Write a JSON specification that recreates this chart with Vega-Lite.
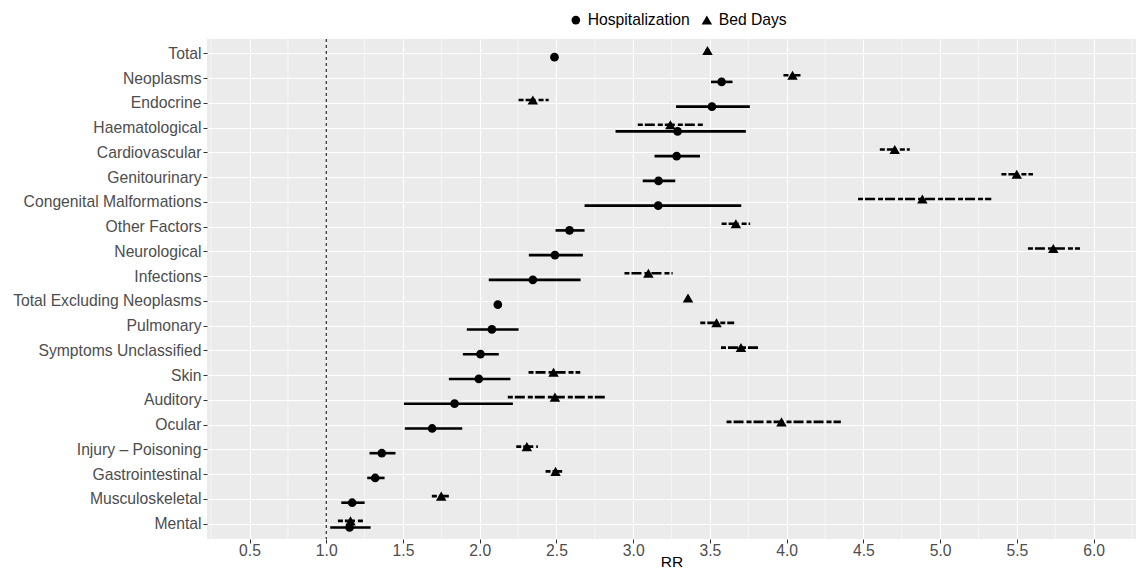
{
  "$schema": "https://vega.github.io/schema/vega-lite/v6.json",
  "width": 929,
  "height": 500,
  "autosize": {"type": "none"},
  "padding": {"left": 207, "top": 39, "right": 7, "bottom": 35},
  "background": "white",
  "config": {
    "view": {"fill": "#EBEBEB", "stroke": null},
    "font": "Liberation Sans",
    "axis": {
      "labelFontSize": 15.7,
      "labelColor": "#4D4D4D",
      "tickColor": "#333333",
      "tickSize": 4,
      "tickWidth": 1,
      "domain": false,
      "labelPadding": 2,
      "labelLimit": 400,
      "titleFontSize": 15.5,
      "titleFontWeight": "normal",
      "titleColor": "black",
      "gridColor": "white",
      "gridWidth": 1.1,
      "gridOpacity": 1
    },
    "axisX": {"labelPadding": 0, "titlePadding": -3}
  },
  "datasets": {
    "minor": [
      {"v": 0.25}, {"v": 0.75}, {"v": 1.25}, {"v": 1.75}, {"v": 2.25}, {"v": 2.75},
      {"v": 3.25}, {"v": 3.75}, {"v": 4.25}, {"v": 4.75}, {"v": 5.25}, {"v": 5.75}, {"v": 6.25}
    ],
    "ref": [{"v": 1}],
    "rr": [
      {"cat": "Total", "type": "Hospitalization", "rr": 2.487, "lo": 2.472, "hi": 2.502},
      {"cat": "Total", "type": "Bed Days", "rr": 3.484, "lo": 3.47, "hi": 3.498},
      {"cat": "Neoplasms", "type": "Hospitalization", "rr": 3.576, "lo": 3.507, "hi": 3.647},
      {"cat": "Neoplasms", "type": "Bed Days", "rr": 4.038, "lo": 3.979, "hi": 4.092},
      {"cat": "Endocrine", "type": "Hospitalization", "rr": 3.513, "lo": 3.279, "hi": 3.76},
      {"cat": "Endocrine", "type": "Bed Days", "rr": 2.346, "lo": 2.253, "hi": 2.449},
      {"cat": "Haematological", "type": "Hospitalization", "rr": 3.289, "lo": 2.885, "hi": 3.734},
      {"cat": "Haematological", "type": "Bed Days", "rr": 3.242, "lo": 3.03, "hi": 3.463},
      {"cat": "Cardiovascular", "type": "Hospitalization", "rr": 3.283, "lo": 3.139, "hi": 3.435},
      {"cat": "Cardiovascular", "type": "Bed Days", "rr": 4.704, "lo": 4.607, "hi": 4.802},
      {"cat": "Genitourinary", "type": "Hospitalization", "rr": 3.165, "lo": 3.062, "hi": 3.274},
      {"cat": "Genitourinary", "type": "Bed Days", "rr": 5.499, "lo": 5.399, "hi": 5.605},
      {"cat": "Congenital Malformations", "type": "Hospitalization", "rr": 3.163, "lo": 2.683, "hi": 3.704},
      {"cat": "Congenital Malformations", "type": "Bed Days", "rr": 4.884, "lo": 4.465, "hi": 5.333},
      {"cat": "Other Factors", "type": "Hospitalization", "rr": 2.585, "lo": 2.494, "hi": 2.683},
      {"cat": "Other Factors", "type": "Bed Days", "rr": 3.669, "lo": 3.576, "hi": 3.762},
      {"cat": "Neurological", "type": "Hospitalization", "rr": 2.49, "lo": 2.32, "hi": 2.672},
      {"cat": "Neurological", "type": "Bed Days", "rr": 5.737, "lo": 5.572, "hi": 5.911},
      {"cat": "Infections", "type": "Hospitalization", "rr": 2.346, "lo": 2.059, "hi": 2.657},
      {"cat": "Infections", "type": "Bed Days", "rr": 3.099, "lo": 2.943, "hi": 3.257},
      {"cat": "Total Excluding Neoplasms", "type": "Hospitalization", "rr": 2.118, "lo": 2.106, "hi": 2.13},
      {"cat": "Total Excluding Neoplasms", "type": "Bed Days", "rr": 3.357, "lo": 3.345, "hi": 3.369},
      {"cat": "Pulmonary", "type": "Hospitalization", "rr": 2.079, "lo": 1.916, "hi": 2.253},
      {"cat": "Pulmonary", "type": "Bed Days", "rr": 3.543, "lo": 3.437, "hi": 3.658},
      {"cat": "Symptoms Unclassified", "type": "Hospitalization", "rr": 2.005, "lo": 1.89, "hi": 2.124},
      {"cat": "Symptoms Unclassified", "type": "Bed Days", "rr": 3.702, "lo": 3.572, "hi": 3.815},
      {"cat": "Skin", "type": "Hospitalization", "rr": 1.994, "lo": 1.799, "hi": 2.2},
      {"cat": "Skin", "type": "Bed Days", "rr": 2.481, "lo": 2.318, "hi": 2.655},
      {"cat": "Auditory", "type": "Hospitalization", "rr": 1.836, "lo": 1.506, "hi": 2.216},
      {"cat": "Auditory", "type": "Bed Days", "rr": 2.49, "lo": 2.183, "hi": 2.828},
      {"cat": "Ocular", "type": "Hospitalization", "rr": 1.69, "lo": 1.512, "hi": 1.886},
      {"cat": "Ocular", "type": "Bed Days", "rr": 3.966, "lo": 3.608, "hi": 4.353},
      {"cat": "Injury – Poisoning", "type": "Hospitalization", "rr": 1.362, "lo": 1.282, "hi": 1.451},
      {"cat": "Injury – Poisoning", "type": "Bed Days", "rr": 2.307, "lo": 2.238, "hi": 2.379},
      {"cat": "Gastrointestinal", "type": "Hospitalization", "rr": 1.319, "lo": 1.267, "hi": 1.38},
      {"cat": "Gastrointestinal", "type": "Bed Days", "rr": 2.494, "lo": 2.429, "hi": 2.537},
      {"cat": "Musculoskeletal", "type": "Hospitalization", "rr": 1.169, "lo": 1.098, "hi": 1.25},
      {"cat": "Musculoskeletal", "type": "Bed Days", "rr": 1.749, "lo": 1.688, "hi": 1.799},
      {"cat": "Mental", "type": "Hospitalization", "rr": 1.152, "lo": 1.026, "hi": 1.289},
      {"cat": "Mental", "type": "Bed Days", "rr": 1.158, "lo": 1.076, "hi": 1.243}
    ]
  },
  "layer": [
    {
      "data": {"name": "minor"},
      "mark": {"type": "rule", "color": "white", "strokeWidth": 0.55},
      "encoding": {
        "x": {"field": "v", "type": "quantitative",
              "scale": {"domain": [0.223, 6.276], "nice": false, "zero": false},
              "axis": {"title": "RR", "values": [0.5, 1, 1.5, 2, 2.5, 3, 3.5, 4, 4.5, 5, 5.5, 6], "format": ".1f", "grid": true}}
      }
    },
    {
      "data": {"name": "rr"},
      "encoding": {
        "y": {
          "field": "cat", "type": "nominal",
          "sort": ["Total", "Neoplasms", "Endocrine", "Haematological", "Cardiovascular", "Genitourinary", "Congenital Malformations", "Other Factors", "Neurological", "Infections", "Total Excluding Neoplasms", "Pulmonary", "Symptoms Unclassified", "Skin", "Auditory", "Ocular", "Injury – Poisoning", "Gastrointestinal", "Musculoskeletal", "Mental"],
          "scale": {"paddingInner": 0, "paddingOuter": 0.1},
          "axis": {"title": null, "grid": true, "bandPosition": 0.5, "labelPadding": 2}
        },
        "yOffset": {
          "field": "type", "type": "nominal",
          "scale": {"domain": ["Bed Days", "Hospitalization"], "paddingInner": 0, "paddingOuter": 0.875}
        }
      },
      "layer": [
        {
          "transform": [{"filter": "datum.type === 'Hospitalization'"}],
          "mark": {"type": "rule", "color": "black", "strokeWidth": 2.6},
          "encoding": {
            "x": {"field": "lo", "type": "quantitative",
                  "scale": {"domain": [0.223, 6.276], "nice": false, "zero": false},
                  "axis": {"title": "RR", "values": [0.5, 1, 1.5, 2, 2.5, 3, 3.5, 4, 4.5, 5, 5.5, 6], "format": ".1f", "grid": true}},
            "x2": {"field": "hi"}
          }
        },
        {
          "transform": [{"filter": "datum.type === 'Bed Days'"}],
          "mark": {"type": "rule", "color": "black", "strokeWidth": 2.6, "strokeDash": [5, 2, 10, 3]},
          "encoding": {
            "x": {"field": "lo", "type": "quantitative",
                  "scale": {"domain": [0.223, 6.276], "nice": false, "zero": false},
                  "axis": {"title": "RR", "values": [0.5, 1, 1.5, 2, 2.5, 3, 3.5, 4, 4.5, 5, 5.5, 6], "format": ".1f", "grid": true}},
            "x2": {"field": "hi"}
          }
        },
        {
          "mark": {"type": "point", "filled": true, "color": "black", "opacity": 1},
          "encoding": {
            "x": {"field": "rr", "type": "quantitative",
                  "scale": {"domain": [0.223, 6.276], "nice": false, "zero": false},
                  "axis": {"title": "RR", "values": [0.5, 1, 1.5, 2, 2.5, 3, 3.5, 4, 4.5, 5, 5.5, 6], "format": ".1f", "grid": true}},
            "shape": {
              "field": "type", "type": "nominal",
              "scale": {"domain": ["Hospitalization", "Bed Days"], "range": ["circle", "triangle-up"]},
              "legend": {"orient": "none", "legendX": 361, "legendY": -27, "direction": "horizontal", "title": null,
                         "labelFontSize": 15.7, "labelColor": "black", "symbolFillColor": "black", "symbolStrokeColor": "black",
                         "symbolOpacity": 1, "columnPadding": 8, "labelOffset": 4}
            },
            "size": {
              "field": "type", "type": "nominal",
              "scale": {"domain": ["Hospitalization", "Bed Days"], "range": [75, 110]}
            }
          }
        }
      ]
    },
    {
      "data": {"name": "ref"},
      "mark": {"type": "rule", "color": "black", "strokeWidth": 1, "strokeDash": [3, 3]},
      "encoding": {
        "x": {"field": "v", "type": "quantitative",
              "scale": {"domain": [0.223, 6.276], "nice": false, "zero": false},
              "axis": {"title": "RR", "values": [0.5, 1, 1.5, 2, 2.5, 3, 3.5, 4, 4.5, 5, 5.5, 6], "format": ".1f", "grid": true}}
      }
    }
  ]
}
